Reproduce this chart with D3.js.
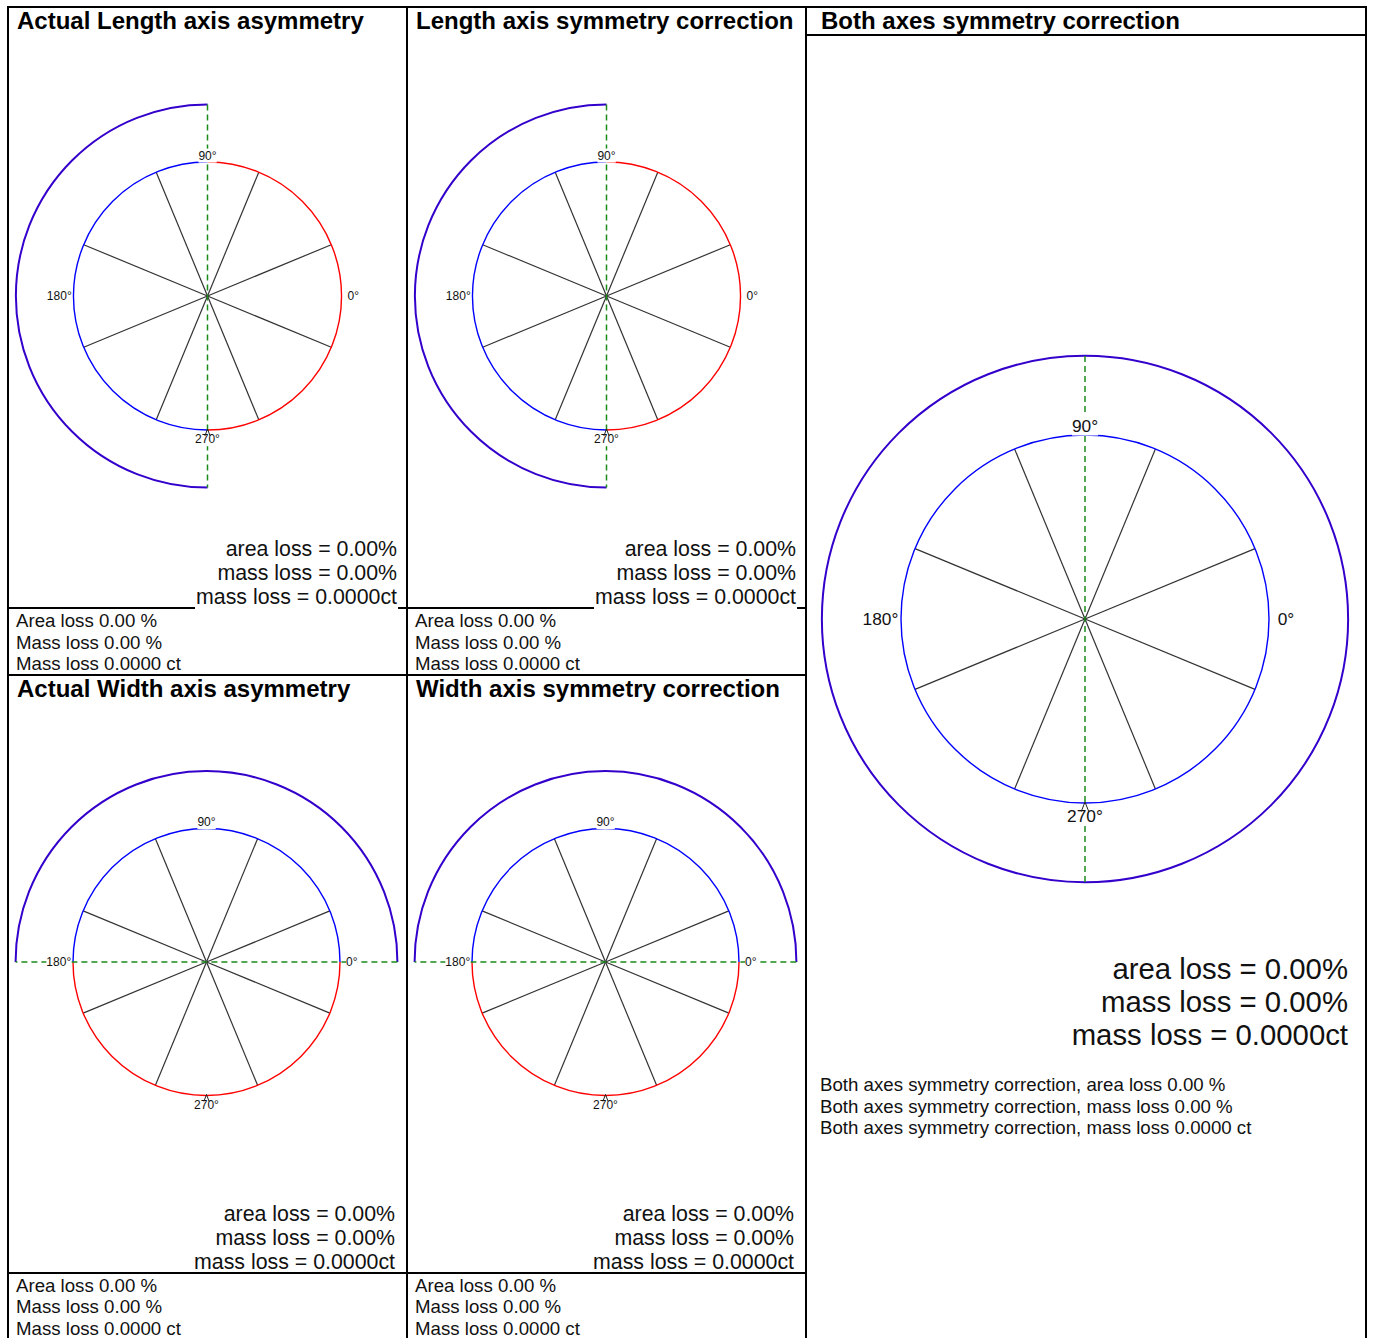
<!DOCTYPE html>
<html>
<head>
<meta charset="utf-8">
<script src="https://cdn.jsdelivr.net/npm/d3@7"></script>
<style>
body { margin: 0; background: #fff; }
svg { display: block; font-family: Arial, "Liberation Sans", sans-serif; }
</style>
</head>
<body>
<div id="chart"></div>
<script>
// chart values
const panelTitles = ["Actual Length axis asymmetry", "Length axis symmetry correction",
	"Actual Width axis asymmetry", "Width axis symmetry correction", "Both axes symmetry correction"];
const areaLossPct = [0, 0, 0, 0, 0];
const massLossPct = [0, 0, 0, 0, 0];
const massLossCt = [0, 0, 0, 0, 0];
const axisLabels = [0, 90, 180, 270];
const spokeAngles = [22.5, 67.5, 112.5, 157.5, 202.5, 247.5, 292.5, 337.5];
// degrees, counter-clockwise from 0°
const outerArcs = [[90, 270], [90, 270], [0, 180], [0, 180], [0, 360]];
const blueArcs = [[90, 270], [90, 270], [0, 180], [0, 180], [0, 360]];
const redArcs = [[270, 450], [270, 450], [180, 360], [180, 360], null];
const symmetryAxis = [90, 90, 0, 0, 90];

// layout
const layout = [
	{x0: 8, top: 7, cx: 207.5, cy: 296, r: 134, lab: 12, loss: 21.33, lossY: 555.5, lossX: 397, lossGap: 24, capX: 16, capY: 627, capGap: 21.5, titleX: 17, titleY: 29},
	{x0: 407, top: 7, cx: 606.5, cy: 296, r: 134, lab: 12, loss: 21.33, lossY: 555.5, lossX: 796, lossGap: 24, capX: 415, capY: 627, capGap: 21.5, titleX: 416, titleY: 29},
	{x0: 8, top: 675, cx: 206.5, cy: 962, r: 133.5, lab: 12, loss: 21.33, lossY: 1220.5, lossX: 395, lossGap: 24, capX: 16, capY: 1291.5, capGap: 21.5, titleX: 17, titleY: 696.5},
	{x0: 407, top: 675, cx: 605.5, cy: 962, r: 133.5, lab: 12, loss: 21.33, lossY: 1220.5, lossX: 794, lossGap: 24, capX: 415, capY: 1291.5, capGap: 21.5, titleX: 416, titleY: 696.5},
	{x0: 806, top: 7, cx: 1085, cy: 619, r: 184, lab: 17.33, loss: 29.33, lossY: 979, lossX: 1348, lossGap: 33, capX: 820, capY: 1091, capGap: 21.5, titleX: 821, titleY: 29}
];
const outerRatio = 1.43;

const fmt2 = d3.format(".2f");
const fmt4 = d3.format(".4f");

const svg = d3.select('#chart').append('svg')
	.attr('width', 1374)
	.attr('height', 1338);

// degrees -> screen angle (y down)
const angle = d3.scaleLinear().domain([0, 360]).range([0, -2 * Math.PI]);

const arcPath = (cx, cy, r, a) => {
	const p = d3.path();
	p.moveTo(cx + r * Math.cos(angle(a[0])), cy + r * Math.sin(angle(a[0])));
	p.arc(cx, cy, r, angle(a[0]), angle(a[1]), true);
	return p.toString();
}

const hline = (x1, x2, y) => svg.append('line')
	.attr('x1', x1).attr('x2', x2).attr('y1', y).attr('y2', y)
	.attr('stroke', '#000').attr('stroke-width', 2);
const vline = (x, y1, y2) => svg.append('line')
	.attr('x1', x).attr('x2', x).attr('y1', y1).attr('y2', y2)
	.attr('stroke', '#000').attr('stroke-width', 2);

// table borders
hline(7, 1367, 7);
vline(8, 6, 1340);
vline(407, 6, 1340);
vline(806, 6, 1340);
vline(1366, 6, 1340);
hline(8, 806, 608);
hline(8, 806, 675);
hline(806, 1366, 35);

const drawPanel = (i) => {
	const L = layout[i];
	const g = svg.append('g');
	const rs = d3.scaleLinear().domain([0, 1]).range([0, L.r]);
	const pt = (a, k) => [L.cx + rs(k) * Math.cos(angle(a)), L.cy + rs(k) * Math.sin(angle(a))];

	g.append('text')
		.attr('x', L.titleX).attr('y', L.titleY)
		.attr('font-size', 24).attr('font-weight', 'bold')
		.text(panelTitles[i]);

	g.selectAll('.spoke').data(spokeAngles).join('line')
		.attr('class', 'spoke')
		.attr('x1', L.cx).attr('y1', L.cy)
		.attr('x2', d => pt(d, 1)[0]).attr('y2', d => pt(d, 1)[1])
		.attr('stroke', '#333').attr('stroke-width', 1.2);

	g.append('path').attr('d', arcPath(L.cx, L.cy, rs(1), blueArcs[i]))
		.attr('fill', 'none').attr('stroke', '#0000ff').attr('stroke-width', 1.4);
	if (redArcs[i]) {
		g.append('path').attr('d', arcPath(L.cx, L.cy, rs(1), redArcs[i]))
			.attr('fill', 'none').attr('stroke', '#ff0000').attr('stroke-width', 1.4);
	}
	g.append('path').attr('d', arcPath(L.cx, L.cy, rs(outerRatio), outerArcs[i]))
		.attr('fill', 'none').attr('stroke', '#3300cc').attr('stroke-width', 2);

	const a0 = pt(symmetryAxis[i], outerRatio), a1 = pt(symmetryAxis[i] + 180, outerRatio);
	g.append('line')
		.attr('x1', a0[0]).attr('y1', a0[1]).attr('x2', a1[0]).attr('y2', a1[1])
		.attr('stroke', '#1a8a1a').attr('stroke-width', 1.5).attr('stroke-dasharray', '6,4');

	// angle labels with white background
	axisLabels.forEach(d => {
		const p = pt(d, 1);
		const fs = L.lab;
		let x = p[0], y = p[1], anchor = 'middle', dy = '0.35em';
		if (d === 0) { x += fs * 0.5; anchor = 'start'; }
		if (d === 180) { x -= fs * 0.15; anchor = 'end'; }
		if (d === 90) { y -= fs * 0.2; dy = '0'; }
		if (d === 270) { y += fs * 1.1; dy = '0'; }
		const t = g.append('text')
			.attr('x', x).attr('y', y).attr('dy', dy)
			.attr('text-anchor', anchor).attr('font-size', fs)
			.attr('fill', '#111')
			.text(d + '°');
		const b = t.node().getBBox();
		g.insert('rect', () => t.node())
			.attr('x', b.x).attr('y', b.y).attr('width', b.width).attr('height', b.height)
			.attr('fill', '#fff');
	});

	// caret at 270
	const bp = pt(270, 1), hw = L.lab * 0.22, h = L.lab * 0.5;
	g.append('path')
		.attr('d', `M${bp[0] - hw},${bp[1] + h}L${bp[0]},${bp[1] - 1}L${bp[0] + hw},${bp[1] + h}`)
		.attr('fill', 'none').attr('stroke', '#222').attr('stroke-width', 1);

	// loss block
	const lossLines = ['area loss = ' + fmt2(areaLossPct[i]) + '%',
		'mass loss = ' + fmt2(massLossPct[i]) + '%',
		'mass loss = ' + fmt4(massLossCt[i]) + 'ct'];
	const lt = g.append('text')
		.attr('text-anchor', 'end').attr('font-size', L.loss).attr('fill', '#111');
	lt.selectAll('tspan').data(lossLines).join('tspan')
		.attr('x', L.lossX).attr('y', (d, k) => L.lossY + k * L.lossGap)
		.text(d => d);
	const lb = lt.node().getBBox();
	g.insert('rect', () => lt.node())
		.attr('x', lb.x - 1).attr('y', lb.y).attr('width', lb.width + 2).attr('height', lb.height + 2.5)
		.attr('fill', '#fff');

	// captions
	const capLines = i === 4
		? ['Both axes symmetry correction, area loss ' + fmt2(areaLossPct[i]) + ' %',
			'Both axes symmetry correction, mass loss ' + fmt2(massLossPct[i]) + ' %',
			'Both axes symmetry correction, mass loss ' + fmt4(massLossCt[i]) + ' ct']
		: ['Area loss ' + fmt2(areaLossPct[i]) + ' %',
			'Mass loss ' + fmt2(massLossPct[i]) + ' %',
			'Mass loss ' + fmt4(massLossCt[i]) + ' ct'];
	g.selectAll('.cap').data(capLines).join('text')
		.attr('class', 'cap')
		.attr('x', L.capX).attr('y', (d, k) => L.capY + k * L.capGap)
		.attr('font-size', 18.67).attr('fill', '#111')
		.text(d => d);
}

d3.range(panelTitles.length).forEach(drawPanel);

hline(8, 806, 1273);
</script>
</body>
</html>
